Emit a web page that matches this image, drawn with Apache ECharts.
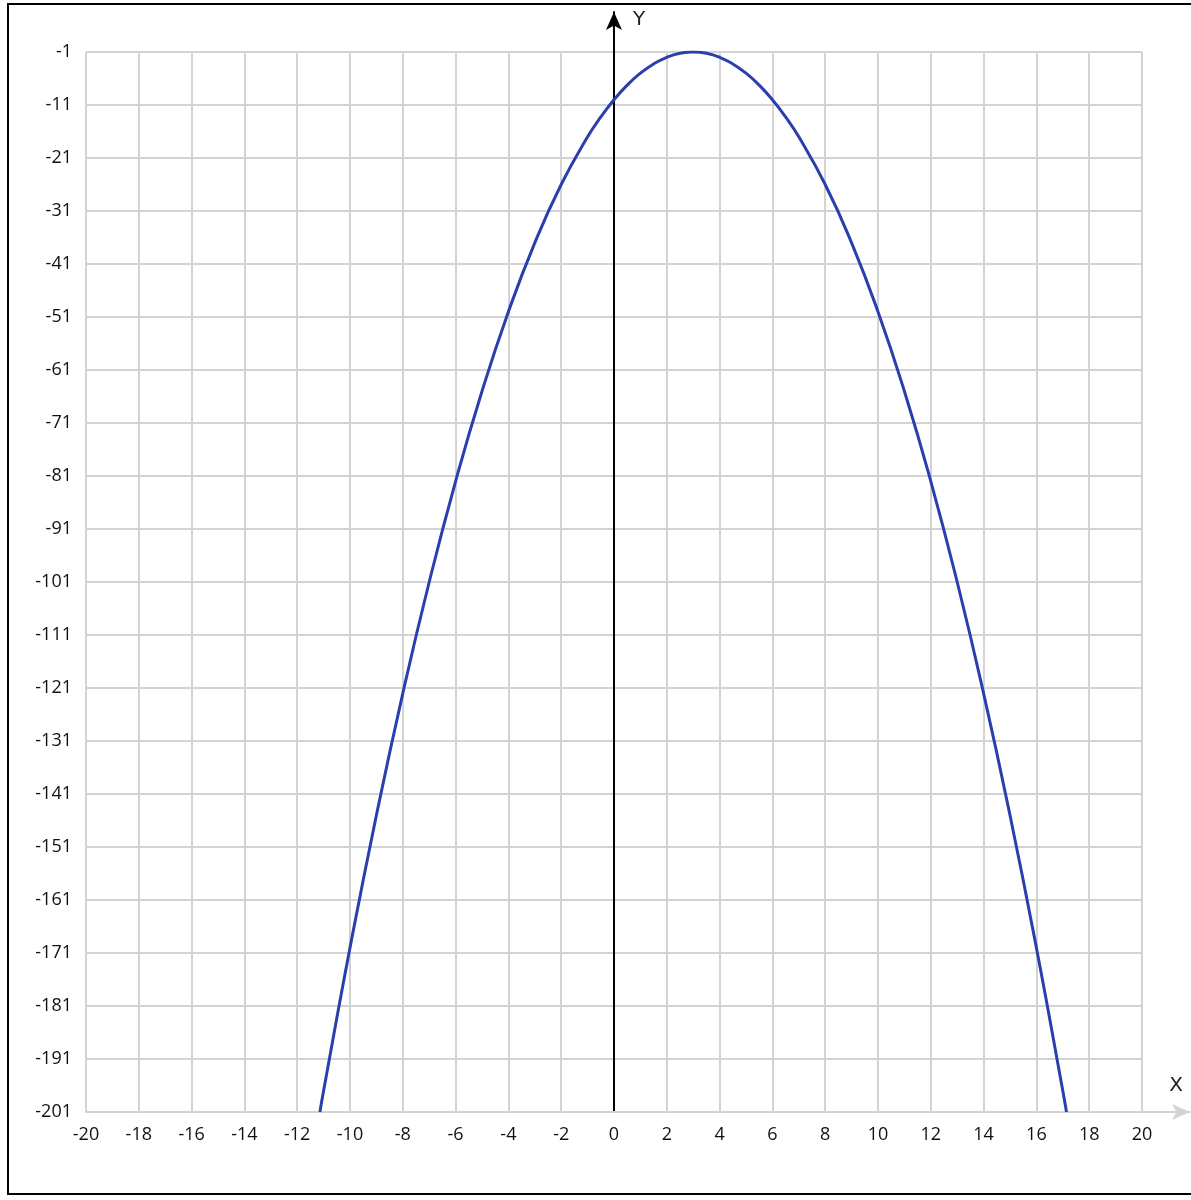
<!DOCTYPE html>
<html><head><meta charset="utf-8">
<script src="https://cdn.jsdelivr.net/npm/echarts@6/dist/echarts.min.js"></script>
<style>html,body{margin:0;padding:0;background:#fff}#c{width:1191px;height:1200px}</style>
</head><body><div id="c"></div>
<script>
// Points (x, y)
const curveX = [-11.14, -11, -10, -9, -8, -7, -6, -5, -4, -3, -2, -1, -0.5, 0, 0.5, 1, 1.5, 2, 2.5, 3, 3.5, 4, 4.5, 5, 5.5, 6, 6.5, 7, 8, 9, 10, 11, 12, 13, 14, 15, 16, 17, 17.14];
const curveY = [-201, -197, -170, -145, -122, -101, -82, -65, -50, -37, -26, -17, -13.25, -10, -7.25, -5, -3.25, -2, -1.25, -1, -1.25, -2, -3.25, -5, -7.25, -10, -13.25, -17, -26, -37, -50, -65, -82, -101, -122, -145, -170, -197, -201];
const xTicks = {min: -20, max: 20, step: 2};
const yTicks = {min: -201, max: -1, step: 10};

const chart = echarts.init(document.getElementById('c'), null, {renderer: 'canvas'});
const gridColor = '#d3d3d3';
const labelFont = {color: '#111', fontSize: 18, fontFamily: 'Open Sans'};
chart.setOption({
  animation: false,
  backgroundColor: '#fff',
  grid: [
    {left: 86, right: 49, top: 52, bottom: 88},
    {left: 86, right: 1, top: 12, bottom: 88}
  ],
  xAxis: [
    {gridIndex: 0, type: 'value', min: xTicks.min, max: xTicks.max, interval: xTicks.step,
     axisLine: {show: false}, axisTick: {show: false},
     axisLabel: Object.assign({margin: 14}, labelFont),
     splitLine: {show: true, lineStyle: {color: gridColor, width: 2}}},
    {gridIndex: 1, type: 'value', min: -20, max: 21.82,
     axisLine: {show: true, onZero: false, symbol: ['none', 'arrow'], symbolSize: [12, 18],
                lineStyle: {color: gridColor, width: 2}},
     axisTick: {show: false}, axisLabel: {show: false}, splitLine: {show: false},
     name: 'X', nameLocation: 'end', nameGap: -7,
     nameTextStyle: {color: '#222', fontSize: 20, fontFamily: 'DejaVu Sans', align: 'right', verticalAlign: 'bottom', padding: [0, 0, 16, 0]}}
  ],
  yAxis: [
    {gridIndex: 0, type: 'value', min: yTicks.min, max: yTicks.max, interval: yTicks.step,
     axisLine: {show: false}, axisTick: {show: false},
     axisLabel: Object.assign({margin: 14}, labelFont),
     splitLine: {show: true, lineStyle: {color: gridColor, width: 2}}},
    {gridIndex: 1, type: 'value', min: -201, max: 6.5,
     axisLine: {show: true, onZero: true, symbol: ['none', 'arrow'], symbolSize: [12, 18],
                lineStyle: {color: '#000', width: 2}},
     axisTick: {show: false}, axisLabel: {show: false}, splitLine: {show: false},
     name: 'Y', nameLocation: 'end', nameGap: -8,
     nameTextStyle: {color: '#222', fontSize: 20, fontFamily: 'DejaVu Sans', align: 'left', verticalAlign: 'middle', padding: [0, 0, 0, 19]}}
  ],
  series: [{
    type: 'line', xAxisIndex: 0, yAxisIndex: 0,
    data: curveX.map((x, i) => [x, curveY[i]]),
    smooth: true, showSymbol: false, clip: true,
    lineStyle: {color: '#2a3fad', width: 3}
  }],
  graphic: [{
    type: 'rect', z: 100, silent: true,
    shape: {x: 8, y: 4, width: 1200, height: 1190},
    style: {fill: 'none', stroke: '#000', lineWidth: 2}
  }]
});
</script></body></html>
